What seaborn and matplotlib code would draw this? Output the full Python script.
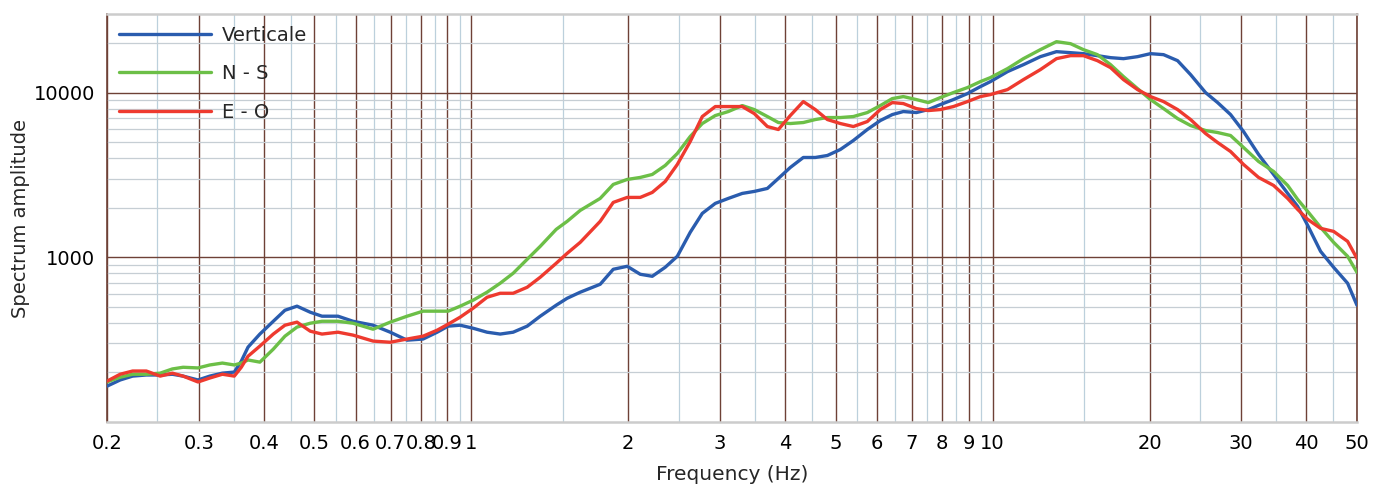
import numpy as np
import pandas as pd
import matplotlib
matplotlib.use("Agg")
import matplotlib.pyplot as plt
import seaborn as sns
from matplotlib.ticker import NullFormatter

# frequencies (Hz) read along the x axis
freq = [0.2, 0.212, 0.224, 0.238, 0.253, 0.267, 0.28, 0.299, 0.315, 0.333,
        0.351, 0.362, 0.373, 0.393, 0.417, 0.439, 0.463, 0.491, 0.517, 0.555,
        0.593, 0.648, 0.699, 0.753, 0.808, 0.86, 0.903, 0.952, 1.008, 1.072,
        1.136, 1.203, 1.28, 1.356, 1.455, 1.527, 1.618, 1.767, 1.872, 1.991,
        2.109, 2.224, 2.355, 2.484, 2.63, 2.774, 2.938, 3.112, 3.31, 3.49,
        3.698, 3.882, 4.092, 4.334, 4.57, 4.82, 5.104, 5.406, 5.75, 6.09,
        6.422, 6.742, 7.142, 7.53, 7.94, 8.41, 8.948, 9.476, 9.904, 10.68,
        11.46, 12.35, 13.26, 14.11, 14.94, 15.89, 16.84, 17.83, 18.97, 20.09,
        21.28, 22.64, 23.98, 25.62, 27.02, 28.61, 30.3, 32.38, 34.6, 36.82,
        38.48, 40.22, 42.58, 45.1, 47.98, 50]

verticale = [165, 180, 190, 193, 193, 195, 190, 180, 190, 198,
             201, 234, 285, 342, 409, 477, 505, 464, 439, 439,
             409, 387, 351, 314, 319, 351, 382, 387, 371, 351,
             342, 351, 382, 439, 512, 564, 614, 686, 846, 882,
             789, 767, 870, 1014, 1418, 1848, 2125, 2278, 2443, 2512,
             2619, 3012, 3511, 4037, 4037, 4151, 4513, 5118, 5968, 6766,
             7356, 7672, 7565, 7888, 8458, 9070, 9861, 10874, 11659, 13405,
             14779, 16526, 17722, 17476, 17234, 16758, 16297, 16071, 16526, 17234,
             16996, 15627, 12856, 10000, 8698, 7356, 5802, 4210, 3184, 2443,
             2038, 1563, 1087, 870, 696, 512]

nord_sud = [175, 187, 195, 195, 198, 210, 215, 213, 222, 228,
            222, 228, 238, 231, 277, 332, 377, 398, 409, 409,
            398, 366, 404, 439, 471, 471, 471, 505, 549, 614,
            696, 800, 973, 1166, 1478, 1653, 1927, 2278, 2770, 2970,
            3054, 3184, 3610, 4268, 5412, 6489, 7255, 7672, 8341, 7888,
            7155, 6580, 6489, 6580, 6861, 7055, 7055, 7155, 7565, 8341,
            9197, 9458, 9070, 8698, 9327, 10000, 10723, 11659, 12328, 13979,
            16071, 18226, 20378, 19817, 18226, 16996, 14779, 12502, 10573, 9070,
            7998, 6957, 6310, 5884, 5722, 5488, 4642, 3818, 3320, 2731,
            2246, 1900, 1520, 1233, 1014, 811]

est_ovest = [177, 195, 204, 204, 190, 198, 190, 175, 185, 195,
             190, 215, 251, 289, 342, 387, 404, 356, 342, 351,
             337, 310, 305, 319, 332, 361, 393, 433, 491, 572,
             605, 605, 658, 757, 920, 1057, 1233, 1653, 2154, 2310,
             2310, 2477, 2887, 3661, 5047, 7155, 8227, 8227, 8227, 7459,
             6222, 5968, 7255, 8820, 7888, 6861, 6489, 6222, 6673, 7888,
             8698, 8577, 7998, 7780, 7888, 8227, 8820, 9458, 9726, 10428,
             11988, 13785, 16071, 16758, 16758, 15627, 14176, 11988, 10428, 9458,
             8820, 7888, 6861, 5643, 4977, 4389, 3661, 3054, 2731, 2278,
             1954, 1700, 1499, 1437, 1250, 986]

series_names = ["Verticale", "N - S", "E - O"]
series_colors = ["#2a5cae", "#6cbf47", "#ee3a2f"]

x_major = [0.2, 0.3, 0.4, 0.5, 0.6, 0.7, 0.8, 0.9, 1, 2, 3, 4, 5, 6, 7, 8, 9, 10, 20, 30, 40, 50]
x_major_labels = ["0.2", "0.3", "0.4", "0.5", "0.6", "0.7", "0.8", "0.9", "1", "2", "3", "4",
                  "5", "6", "7", "8", "9", "10", "20", "30", "40", "50"]
x_minor = [0.25, 0.35, 0.45, 0.55, 0.65, 0.75, 0.85, 0.95, 1.5, 2.5, 3.5, 4.5, 5.5, 6.5,
           7.5, 8.5, 9.5, 15, 25, 35, 45]
y_major = [1000, 10000]
y_major_labels = ["1000", "10000"]
y_minor = [200, 300, 400, 500, 600, 700, 800, 900,
           2000, 3000, 4000, 5000, 6000, 7000, 8000, 9000, 20000]

df = pd.DataFrame({"freq": freq, "Verticale": verticale, "N - S": nord_sud, "E - O": est_ovest})
long_df = df.melt(id_vars="freq", var_name="comp", value_name="amp")

sns.set_style("white")
plt.rcParams["font.family"] = ["DejaVu Sans"]

brown = "#6e4136"
light_blue = "#bcd0dc"
light_grey = "#c6ced4"

fig = plt.figure(figsize=(13.73, 4.88), dpi=100)
ax = fig.add_axes([0.0779, 0.1352, 0.9104, 0.8361])

sns.lineplot(data=long_df, x="freq", y="amp", hue="comp", hue_order=series_names,
             palette=dict(zip(series_names, series_colors)), estimator=None,
             linewidth=2.4, ax=ax, zorder=3)

ax.set_xscale("log")
ax.set_yscale("log")
ax.set_xlim(0.2, 50)
ax.set_ylim(100, 30000)

ax.set_xticks(x_major)
ax.set_xticklabels(x_major_labels)
ax.set_xticks(x_minor, minor=True)
ax.xaxis.set_minor_formatter(NullFormatter())
ax.set_yticks(y_major)
ax.set_yticklabels(y_major_labels)
ax.set_yticks(y_minor, minor=True)
ax.yaxis.set_minor_formatter(NullFormatter())

ax.grid(which="major", axis="both", color=brown, linewidth=1.0, zorder=1)
ax.grid(which="minor", axis="x", color=light_blue, linewidth=0.9, zorder=1)
ax.grid(which="minor", axis="y", color=light_grey, linewidth=0.9, zorder=1)
ax.set_axisbelow(True)

ax.tick_params(which="both", direction="out", length=5, width=1, colors=brown,
               labelcolor="black", labelsize=14, pad=3.5)
ax.tick_params(which="minor", axis="x", colors=light_blue)
ax.tick_params(which="minor", axis="y", colors=light_grey)

for side in ["left", "right"]:
    ax.spines[side].set_color(brown)
    ax.spines[side].set_linewidth(1.2)
for side in ["top", "bottom"]:
    ax.spines[side].set_color("#cccccc")
    ax.spines[side].set_linewidth(1.8)

ax.set_xlabel("Frequency (Hz)", fontsize=14.5, labelpad=9)
ax.set_ylabel("Spectrum amplitude", fontsize=14, labelpad=3)

handles, labels = ax.get_legend_handles_labels()
leg = ax.legend(handles, labels, loc="upper left", bbox_to_anchor=(0, 1),
                borderaxespad=0, frameon=False, fontsize=14, handlelength=4.75,
                handletextpad=0.55, labelspacing=1.0, borderpad=0.6)
for line in leg.get_lines():
    line.set_linewidth(2.4)

fig.savefig("out.png", dpi=100)
